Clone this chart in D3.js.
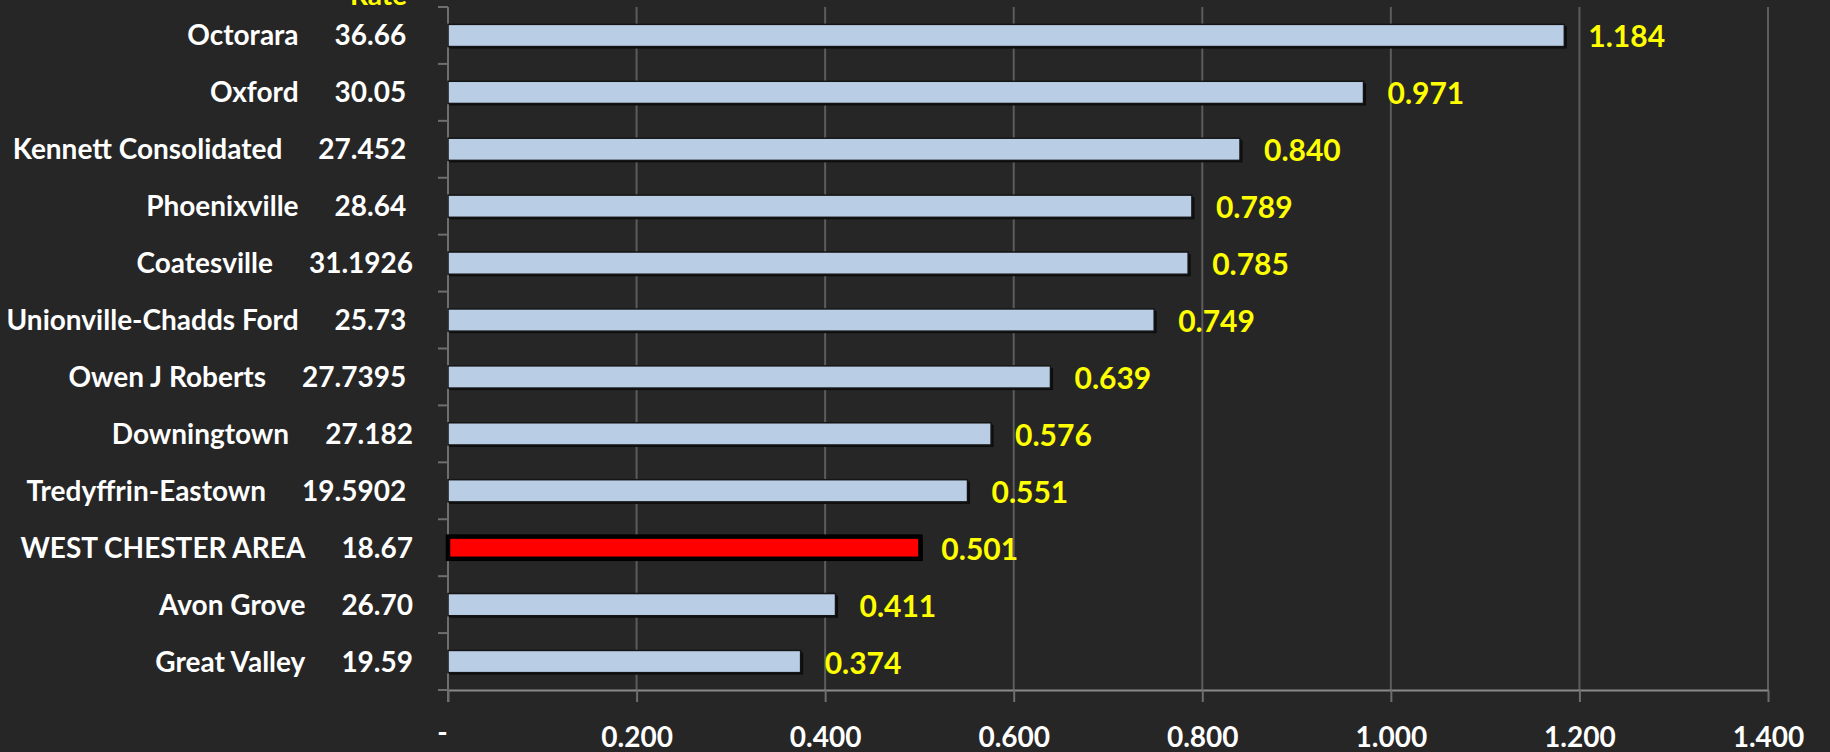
<!DOCTYPE html>
<html>
<head>
<meta charset="utf-8">
<script src="https://cdn.jsdelivr.net/npm/d3@7"></script>
<style>
  html, body { margin: 0; padding: 0; background: #262626; }
  svg { display: block; }
  text { font-family: Lato, "Open Sans", sans-serif; font-weight: bold; white-space: pre; }
</style>
</head>
<body>
<svg id="chart" width="1830" height="752"></svg>
<script>
// ---- data ----
const districts = ["Octorara", "Oxford", "Kennett Consolidated", "Phoenixville", "Coatesville",
  "Unionville-Chadds Ford", "Owen J Roberts", "Downingtown", "Tredyffrin-Eastown",
  "WEST CHESTER AREA", "Avon Grove", "Great Valley"];
const rates = ["36.66 ", "30.05 ", "27.452 ", "28.64 ", "31.1926", "25.73 ", "27.7395 ",
  "27.182", "19.5902 ", "18.67", "26.70", "19.59"];
const values = [1.184, 0.971, 0.840, 0.789, 0.785, 0.749, 0.639, 0.576, 0.551, 0.501, 0.411, 0.374];
const highlight = "WEST CHESTER AREA";
const tickValues = [0, 0.2, 0.4, 0.6, 0.8, 1.0, 1.2, 1.4];
const rateHeader = "Rate";

// ---- layout ----
const W = 1830, H = 752;
const mLeft = 448, mRight = 1768, mTop = 7, mBottom = 690;
const svg = d3.select("#chart");
svg.append("rect").attr("width", W).attr("height", H).attr("fill", "#262626");

const x = d3.scaleLinear().domain([0, 1.4]).range([mLeft, mRight]);
const y = d3.scaleBand().domain(districts).range([mTop, mBottom]).paddingInner(0.61).paddingOuter(0.305);
const yb = d3.scaleBand().domain(districts).range([mTop, mBottom]);

// gridlines
svg.append("g").selectAll("line").data(tickValues.filter(d => d > 0)).join("line")
  .attr("x1", d => x(d)).attr("x2", d => x(d))
  .attr("y1", mTop).attr("y2", mBottom)
  .attr("stroke", "#5c5c5c").attr("stroke-width", 2);

// x axis
const xAxis = d3.axisBottom(x).tickValues(tickValues)
  .tickFormat(d => d === 0 ? "-" : d3.format(".3f")(d))
  .tickSize(12).tickSizeOuter(0).tickPadding(0);
const gx = svg.append("g").attr("transform", `translate(0,${mBottom})`).call(xAxis);
gx.select(".domain").attr("stroke", "#8a8a8a").attr("stroke-width", 2);
gx.selectAll(".tick line").attr("stroke", "#6e6e6e").attr("stroke-width", 2);
gx.selectAll(".tick text").attr("fill", "#ffffff").attr("font-size", 28)
  .attr("font-family", "Lato, sans-serif").attr("font-weight", "bold")
  .attr("y", 57).attr("dy", 0);
gx.selectAll(".tick text").filter(d => d === 0).attr("x", -6).attr("y", 52);

// y axis (category boundaries)
const bounds = districts.map(d => yb(d)).concat([mBottom]);
svg.append("g").selectAll("line").data(bounds).join("line")
  .attr("x1", mLeft - 10).attr("x2", mLeft).attr("y1", d => d).attr("y2", d => d)
  .attr("stroke", "#6e6e6e").attr("stroke-width", 2);
svg.append("line").attr("x1", mLeft).attr("x2", mLeft).attr("y1", mTop).attr("y2", mBottom + 12)
  .attr("stroke", "#6e6e6e").attr("stroke-width", 2);

// bars: shadow + bar
const bars = svg.append("g");
bars.selectAll("rect.shadow").data(districts).join("rect").attr("class", "shadow")
  .attr("x", mLeft + 1).attr("y", d => y(d) + 2)
  .attr("width", (d, i) => x(values[i]) - mLeft + 1.5).attr("height", y.bandwidth())
  .attr("fill", "#0d0d0d");
bars.selectAll("rect.bar").data(districts).join("rect").attr("class", "bar")
  .attr("x", mLeft).attr("y", d => y(d))
  .attr("width", (d, i) => x(values[i]) - mLeft).attr("height", y.bandwidth())
  .attr("fill", d => d === highlight ? "#ff0000" : "#b9cde5")
  .attr("stroke", d => d === highlight ? "#000000" : "#151515")
  .attr("stroke-width", d => d === highlight ? 4.5 : 1.5);

// value labels
svg.append("g").selectAll("text").data(districts).join("text")
  .attr("x", (d, i) => x(values[i]) + (d === highlight ? 21 : 24))
  .attr("y", d => y(d) + y.bandwidth() / 2 + 12)
  .attr("fill", "#ffff00").attr("font-size", 30)
  .text((d, i) => d3.format(".3f")(values[i]));

// category labels: district name + rate
const labelEnd = 413;
const lab = svg.append("g");
districts.forEach((d, i) => {
  const cy = yb(d) + yb.bandwidth() / 2 + 10;
  const r = lab.append("text").attr("x", labelEnd).attr("y", cy)
    .attr("text-anchor", "end").attr("fill", "#ffffff").attr("font-size", 28)
    .attr("xml:space", "preserve").text(rates[i]);
  const len = r.node().getComputedTextLength();
  lab.append("text").attr("x", labelEnd - len - 36).attr("y", cy)
    .attr("text-anchor", "end").attr("fill", "#ffffff").attr("font-size", 28)
    .text(d);
});

// header
svg.append("text").attr("x", 407).attr("y", 5).attr("text-anchor", "end")
  .attr("fill", "#ffff00").attr("font-size", 28).text(rateHeader);
</script>
</body>
</html>
